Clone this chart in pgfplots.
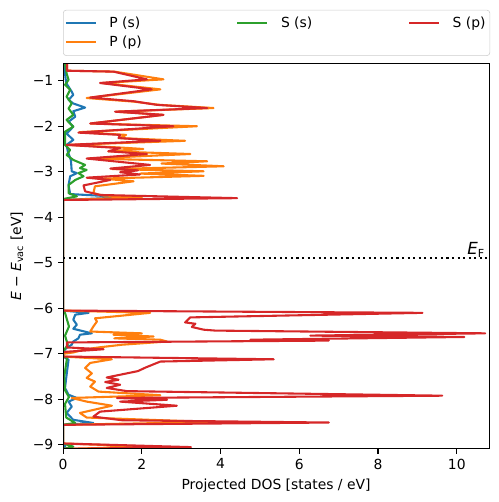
\documentclass[border=0pt]{standalone}
\usepackage{pgfplots}
\pgfplotsset{compat=1.18}
\usepackage{fontspec}
\setmainfont{DejaVu Sans}
\definecolor{tabblue}{HTML}{1F77B4}
\definecolor{taborange}{HTML}{FF7F0E}
\definecolor{tabgreen}{HTML}{2CA02C}
\definecolor{tabred}{HTML}{D62728}
\begin{document}
\fontsize{10pt}{12pt}\selectfont
\begin{tikzpicture}
\begin{axis}[
  scale only axis,
  width=306.7pt, height=277.2pt,
  xmin=0, xmax=10.82, ymin=-9.09, ymax=-0.63,
  axis on top,
  axis line style={line width=0.8pt},
  tick style={line width=0.8pt, black},
  tick align=outside, major tick length=3.5pt,
  xtick={0,2,4,6,8,10},
  ytick={-9,-8,-7,-6,-5,-4,-3,-2,-1},
  yticklabels={−9,−8,−7,−6,−5,−4,−3,−2,−1},
  xtick pos=bottom, ytick pos=left,
  /pgf/number format/assume math mode=true,
  tick label style={font=\fontsize{10pt}{12pt}\selectfont},
  label style={font=\fontsize{10pt}{12pt}\selectfont},
  xlabel={Projected DOS [states / eV]},
  ylabel={\itshape E\upshape\ − \itshape E\upshape\textsubscript{vac} [eV]},
  legend columns=3,
  legend image code/.code={\draw[#1,line width=1.5pt] (0pt,0pt) -- (21.6pt,0pt);},
  legend cell align=left,
  legend style={at={(0,1)}, anchor=south west, yshift=5.8pt,
    draw=black!20, rounded corners=2pt, fill=white,
    font=\fontsize{10pt}{12pt}\selectfont,
    inner xsep=1pt, inner ysep=3pt, row sep=0.5pt,
    /tikz/every odd column/.append style={column sep=0pt},
    /tikz/every even column/.append style={column sep=0pt}},
]
\addlegendimage{tabblue}\addlegendentry{\hspace*{7pt}\makebox[89.5pt][l]{P (s)}}
\addlegendimage{tabgreen}\addlegendentry{\hspace*{7pt}\makebox[89.5pt][l]{S (s)}}
\addlegendimage{tabred}\addlegendentry{\hspace*{7pt}\makebox[23.7pt][l]{S (p)}}
\addlegendimage{taborange}\addlegendentry{\hspace*{7pt}\makebox[89.5pt][l]{P (p)}}

\addplot[tabblue, line width=1.5pt, line join=round, forget plot] coordinates {
(0.02,-0.63)(0.05,-0.85)(0.08,-1.05)(0.22,-1.24)(0.26,-1.31)(0.14,-1.42)(0.26,-1.50)
(0.56,-1.59)(0.26,-1.67)(0.31,-1.79)(0.14,-1.90)(0.26,-2.01)(0.09,-2.16)(0.26,-2.30)
(0.09,-2.41)(0.12,-2.55)(0.20,-2.75)(0.22,-2.99)(0.35,-3.03)(0.18,-3.10)(0.14,-3.29)
(0.18,-3.49)(1.62,-3.56)(0,-3.62)(0,-6.05)(0.65,-6.10)(0.31,-6.14)(0.26,-6.25)
(0.35,-6.36)(0.26,-6.45)(0.73,-6.55)(0.43,-6.58)(0.39,-6.66)(0.26,-6.73)(0.22,-6.80)
(0.09,-6.87)(0,-6.95)(0,-7.06)(0.14,-7.13)(0.09,-7.46)(0.05,-7.75)(0.14,-7.90)
(0.35,-7.97)(0.14,-8.05)(0.22,-8.16)(0.09,-8.30)(0.26,-8.45)(0.77,-8.52)(0,-8.56)
(0,-8.97)(0.06,-9.03)(0,-9.09)
};
\addplot[taborange, line width=1.5pt, line join=round, forget plot] coordinates {
(0.10,-0.63)(0.10,-0.78)(1.30,-0.80)(2.55,-0.97)(1.00,-1.05)(2.47,-1.19)(0.60,-1.38)
(1.80,-1.46)(2.45,-1.53)(3.82,-1.60)(1.35,-1.68)(2.55,-1.75)(0.70,-1.94)(3.40,-2.00)
(0.42,-2.13)(1.60,-2.19)(1.45,-2.26)(3.10,-2.32)(0.12,-2.41)(1.5,-2.47)(2.04,-2.50)
(1.15,-2.55)(3.23,-2.61)(0.65,-2.71)(3.66,-2.77)(2.5,-2.82)(4.08,-2.88)(1.25,-2.94)
(3.57,-2.99)(1.96,-3.04)(3.57,-3.09)(1.0,-3.15)(1.79,-3.21)(0.81,-3.32)(0.77,-3.47)
(1.0,-3.52)(2.0,-3.56)(0,-3.62)(0,-6.05)(2.21,-6.10)(0.81,-6.22)(0.86,-6.29)
(0.77,-6.40)(0.69,-6.51)(2.00,-6.55)(1.28,-6.58)(2.30,-6.62)(1.30,-6.66)(2.47,-6.69)
(2.64,-6.73)(1.5,-6.80)(0.9,-6.86)(0.52,-6.91)(0.26,-6.97)(0,-7.00)(0,-7.06)
(1.24,-7.12)(0.69,-7.20)(0.56,-7.31)(0.73,-7.43)(0.60,-7.53)(0.81,-7.61)(0.69,-7.72)
(0.90,-7.83)(2.47,-7.91)(0.22,-7.97)(0.6,-8.05)(1.24,-8.14)(0.43,-8.30)(0.60,-8.40)
(3.80,-8.50)(0,-8.56)(0,-8.97)(2.20,-9.04)(0,-9.09)
};
\addplot[tabgreen, line width=1.5pt, line join=round, forget plot] coordinates {
(0.05,-0.63)(0.09,-0.84)(0.14,-0.98)(0.05,-1.09)(0.18,-1.20)(0.09,-1.35)(0.22,-1.50)
(0.14,-1.61)(0.26,-1.75)(0.09,-1.86)(0.26,-2.01)(0.05,-2.12)(0.05,-2.41)(0.18,-2.52)
(0.09,-2.63)(0.26,-2.74)(0.56,-2.85)(0.43,-2.92)(0.60,-2.96)(0.39,-3.03)(0.52,-3.10)
(0.31,-3.18)(0.14,-3.29)(0.14,-3.47)(0.35,-3.54)(0,-3.60)(0,-6.05)(0.05,-6.10)
(0.15,-6.40)(0.05,-6.60)(0.12,-6.80)(0,-6.95)(0,-7.05)(0.10,-7.10)(0.03,-7.50)
(0.05,-7.80)(0.15,-7.95)(0.05,-8.10)(0.08,-8.40)(0.31,-8.52)(0,-8.56)(0,-8.97)
(0.26,-9.04)(0,-9.09)
};
\addplot[tabred, line width=1.5pt, line join=round, forget plot] coordinates {
(0.10,-0.63)(0.10,-0.78)(1.28,-0.80)(2.13,-0.97)(0.94,-1.05)(2.25,-1.19)(0.69,-1.37)
(1.79,-1.45)(2.38,-1.53)(3.66,-1.60)(1.32,-1.68)(2.55,-1.75)(0.69,-1.94)(2.80,-2.00)
(0.39,-2.14)(1.45,-2.19)(1.41,-2.26)(2.47,-2.32)(0.09,-2.41)(1.45,-2.48)(1.15,-2.55)
(2.13,-2.61)(0.60,-2.71)(2.21,-2.85)(1.20,-2.93)(1.90,-2.97)(1.45,-3.01)(1.95,-3.06)
(0.60,-3.13)(1.20,-3.18)(0.52,-3.30)(0.56,-3.43)(0.94,-3.51)(4.42,-3.58)(0,-3.62)
(0,-6.05)(9.13,-6.10)(3.23,-6.20)(3.10,-6.31)(3.36,-6.34)(3.27,-6.41)(3.57,-6.47)
(3.87,-6.49)(10.72,-6.55)(6.28,-6.60)(10.19,-6.63)(4.76,-6.69)(6.75,-6.71)(0.10,-6.75)
(0.10,-6.86)(1.03,-6.90)(0,-6.96)(0,-7.06)(5.35,-7.12)(2.47,-7.17)(2.10,-7.30)
(1.90,-7.38)(1.11,-7.52)(1.41,-7.57)(1.07,-7.62)(1.45,-7.68)(1.11,-7.75)(1.62,-7.82)
(9.63,-7.92)(1.37,-7.97)(2.64,-8.01)(1.45,-8.05)(2.89,-8.14)(0.94,-8.27)(0.77,-8.38)
(1.50,-8.46)(6.75,-8.51)(0,-8.56)(0,-8.97)(3.25,-9.05)(0,-9.09)
};
\addplot[black, line width=1.5pt, dash pattern=on 1.5pt off 2.5pt, forget plot] coordinates {(0,-4.89)(10.82,-4.89)};
\node[anchor=base east, inner sep=0pt, yshift=2.2pt, font=\fontsize{12pt}{14pt}\selectfont] at (axis cs:10.72,-4.89) {\itshape E\upshape\textsubscript{F}};
\end{axis}
\path (current axis.south west) ++(-45.4pt,-38.2pt) rectangle ++(358.6pt,361.4pt);
\end{tikzpicture}
\end{document}
